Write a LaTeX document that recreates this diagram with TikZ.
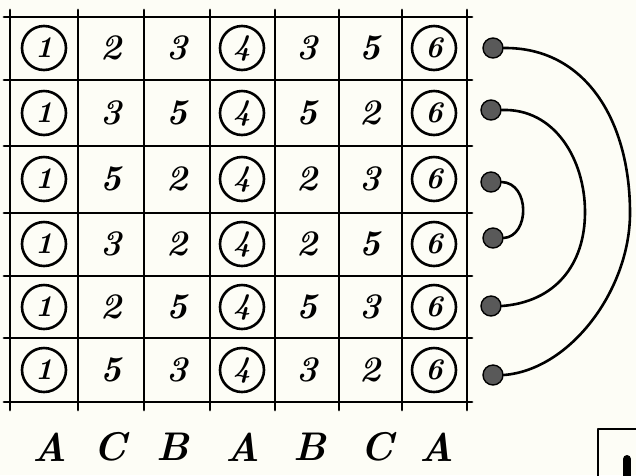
\documentclass[tikz,border=0pt]{standalone}
\begin{document}
\begin{tikzpicture}[x=1pt,y=-1pt,
  ink/.style={line width=2.8pt, line cap=round, line join=round},
  num/.style={font=\fontsize{36}{36}\selectfont\bfseries\itshape, inner sep=0pt},
  circnum/.style={circle, draw, line width=2.6pt, minimum size=44pt, inner sep=0pt, font=\fontsize{30}{30}\selectfont\bfseries\itshape},
  dot/.style={circle, draw, line width=1.4pt, fill=black!65, minimum size=20pt, inner sep=0pt},
  lbl/.style={font=\fontsize{40}{40}\selectfont\bfseries\itshape, inner sep=0pt},
  arc/.style={line width=2.6pt, line cap=round}]
\definecolor{paper}{RGB}{253,253,246}
\useasboundingbox (0,0) rectangle (636,475);
\fill[paper] (0,0) rectangle (636,475);
% grid
\foreach \x in {10,78,144,210,275,339,402,467} \draw[ink] (\x,10) -- (\x,410);
\foreach \y in {17,80,146,213,276,338,402} \draw[ink] (4,\y) -- (472,\y);
% circled columns
\foreach \r/\y in {1/48,2/113,3/179,4/244,5/307,6/370} {
  \node[circnum] (c\r-1) at (44,\y) {1};
  \node[circnum] (c\r-4) at (242,\y) {4};
  \node[circnum] (c\r-7) at (434,\y) {6};
}
% plain numbers
\foreach \r/\y/\a/\b/\c/\d in {1/48/2/3/3/5, 2/113/3/5/5/2, 3/179/5/2/2/3, 4/244/3/2/2/5, 5/307/2/5/5/3, 6/370/5/3/3/2} {
  \node[num] (c\r-2) at (111,\y) {\a};
  \node[num] (c\r-3) at (177,\y) {\b};
  \node[num] (c\r-5) at (307,\y) {\c};
  \node[num] (c\r-6) at (370,\y) {\d};
}
% column labels
\foreach \i/\x/\t in {1/50/A,2/110/C,3/173/B,4/243/A,5/310/B,6/377/C,7/437/A}
  \node[lbl] (l\i) at (\x,447) {\t};
% dots
\node[dot] (d1) at (493,48) {};
\node[dot] (d2) at (491,110) {};
\node[dot] (d3) at (491,182) {};
\node[dot] (d4) at (493,238) {};
\node[dot] (d5) at (491,306) {};
\node[dot] (d6) at (493,375) {};
% arcs
\coordinate (o) at (630,213);
\coordinate (m) at (585,212);
\draw[arc] (d1.east) .. controls (585,47) and (630,120) .. (o) .. controls (630,290) and (570,370) .. (d6.east);
\draw[arc] (d2.east) .. controls (555,108) and (585,160) .. (m) .. controls (585,265) and (555,302) .. (d5.east);
\draw[arc] (d3.east) .. controls (530,183) and (530,236) .. (d4.east);
% corner box fragment
\draw[ink] (598,476) -- (598,429) -- (640,429);
\draw[line width=8pt, line cap=round] (627,459) -- (627,480);
\end{tikzpicture}
\end{document}
